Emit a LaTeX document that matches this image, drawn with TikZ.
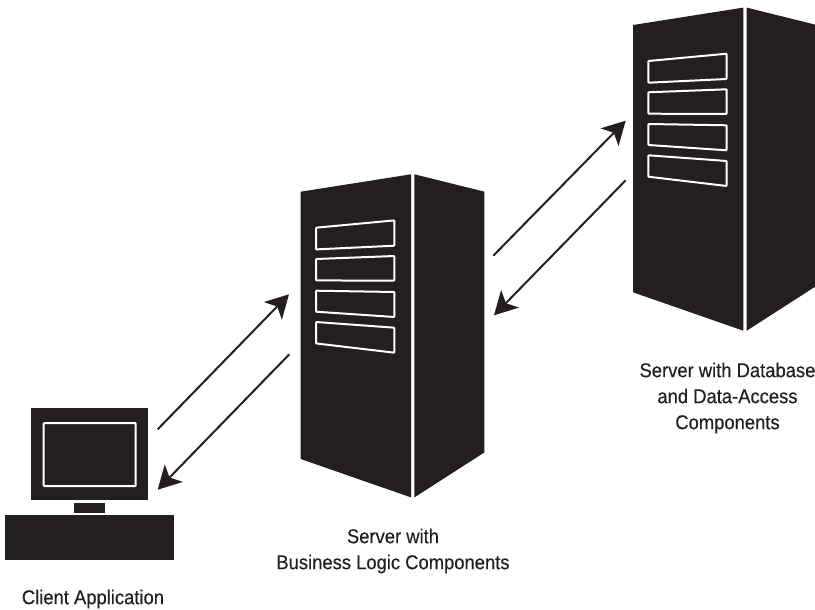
\documentclass[tikz,border=0pt]{standalone}
\usepackage{fontspec}
\setmainfont[FakeStretch=0.92,FakeBold=0.35]{Liberation Sans}
\usetikzlibrary{arrows.meta}
\definecolor[named]{BoxBlack}{HTML}{231F20}
\tikzset{
  slot/.style={draw=white,line width=2pt,rounded corners=0.8pt},
  link/.style={BoxBlack,line width=2pt,-{Stealth[length=23pt,width=25pt,inset=6pt]}},
  caption/.style={BoxBlack,align=center,font=\fontsize{20}{26}\selectfont,inner sep=0pt},
}
\tikzset{server/.pic={ %{{{
  \fill[BoxBlack] (0,0) -- (110.3,-17.4) -- (110.3,305.7) -- (0,267.3) -- cycle;
  \fill[BoxBlack] (113.7,-17.4) -- (183.7,0) -- (183.7,260.7) -- (113.7,305.7) -- cycle;
  \draw[slot] (15.3,36) -- (93.7,28.7) -- (93.7,54) -- (15.3,57.7) -- cycle;
  \draw[slot] (15.3,67.3) -- (93.7,64.3) -- (93.7,89) -- (15.3,88.7) -- cycle;
  \draw[slot] (15.3,99) -- (93.7,100.3) -- (93.7,125.3) -- (15.3,120) -- cycle;
  \draw[slot] (15.3,130.3) -- (93.7,136) -- (93.7,161) -- (15.3,151.7) -- cycle;
}}
%}}}
\tikzset{client/.pic={ %{{{
  \fill[BoxBlack] (31.3,408.3) rectangle (148,500.3);
  \draw[slot] (43.7,423) rectangle (135.7,486);
  \fill[BoxBlack] (74,503) rectangle (105,512.7);
  \fill[BoxBlack] (5.3,515) rectangle (173.7,560);
}}
%}}}
\begin{document}
\begin{tikzpicture}[x=1pt,y=-1pt]
  \useasboundingbox (0,0) rectangle (815,610);

  % Machines {{{
  \pic at (0,0) {client};
  \pic at (300.7,191.7) {server};
  \pic at (633,25) {server};
  % }}}

  % Links {{{
  \coordinate (C1) at (157.7,429.3);
  \coordinate (C2) at (157.7,489.7);
  \coordinate (M1) at (289,294.3);
  \coordinate (M2) at (289.3,354.3);
  \coordinate (M3) at (493.3,255.7);
  \coordinate (M4) at (494,315.3);
  \coordinate (D1) at (625.7,120.7);
  \coordinate (D2) at (625.7,180.3);
  \draw[link] (C1) -- (M1);
  \draw[link] (M2) -- (C2);
  \draw[link] (M3) -- (D1);
  \draw[link] (D2) -- (M4);
  % }}}

  \node[caption] (clientlabel) at (93,599) {Client Application};
  \node[caption] (midlabel) at (393,551) {Server with\\Business Logic Components};
  \node[caption] (dblabel) at (727.5,398) {Server with Database\\and Data-Access\\Components};
\end{tikzpicture}
\end{document}
